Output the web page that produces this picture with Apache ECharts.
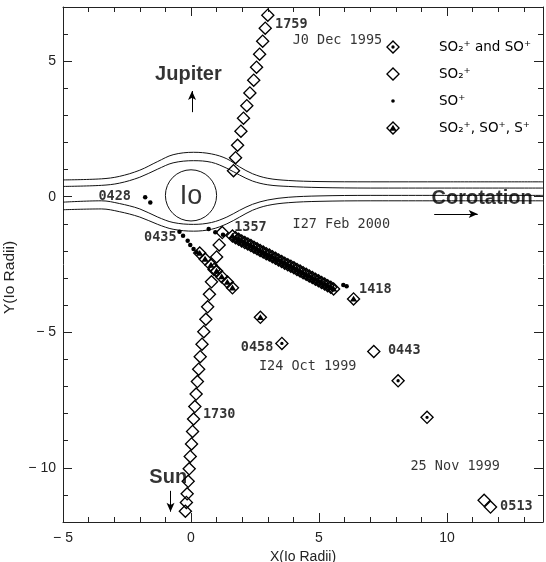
<!DOCTYPE html>
<html>
<head>
<meta charset="utf-8">
<script src="https://cdn.jsdelivr.net/npm/echarts@6/dist/echarts.min.js"></script>
<style>
html, body { margin: 0; padding: 0; background: #fff; }
#io-chart { width: 546px; height: 562px; }
</style>
</head>
<body>
<div id="io-chart"></div>
<script>
// axis ranges and tick labels
const xRange = [-5, 13.75];
const yRange = [-12, 7];
const yMajorTicks = [-10, -5, 0, 5];

// legend names
const seriesNames = ['SO₂⁺ and SO⁺', 'SO₂⁺', 'SO⁺', 'SO₂⁺, SO⁺, S⁺'];

// SO2+ and SO+ (diamond with dot)
const so2AndSo = [[3.55, -5.41], [8.09, -6.79], [9.22, -8.14]];

// SO2+ only (open diamond): J0 Dec 1995 pass and I25
const so2Only = [
  [3.00, 6.70], [2.90, 6.22], [2.80, 5.74], [2.68, 5.26], [2.56, 4.78], [2.45, 4.30],
  [2.30, 3.83], [2.18, 3.36], [2.05, 2.90], [1.95, 2.42], [1.82, 1.90], [1.74, 1.44], [1.66, 0.96],
  [1.22, -1.32], [1.10, -1.78], [1.00, -2.22], [0.90, -2.68], [0.80, -3.14], [0.72, -3.60],
  [0.65, -4.06], [0.58, -4.52], [0.50, -4.98], [0.43, -5.44], [0.36, -5.90], [0.30, -6.36],
  [0.25, -6.82], [0.20, -7.28], [0.15, -7.74], [0.10, -8.20], [0.06, -8.66], [0.02, -9.12],
  [-0.03, -9.58], [-0.07, -10.04], [-0.11, -10.50], [-0.15, -10.96], [-0.18, -11.28], [-0.22, -11.60],
  [7.14, -5.71], [11.45, -11.20], [11.70, -11.45]
];

// SO+ only (dot)
const soOnly = [
  [-1.79, -0.02], [-1.59, -0.21],
  [-0.45, -1.29], [-0.31, -1.44], [-0.13, -1.62], [-0.03, -1.78], [0.10, -1.93], [0.22, -2.05],
  [0.69, -1.19], [0.95, -1.31], [1.25, -1.40],
  [5.95, -3.26], [6.08, -3.30]
];

// SO2+, SO+ and S+ (diamond with triangle): I27 Feb 2000, I24 Oct 1999
const so2SoS = [
  [1.62, -1.45], [1.74, -1.51], [1.86, -1.57], [1.98, -1.63], [2.10, -1.69], [2.22, -1.74],
  [2.34, -1.80], [2.46, -1.86], [2.58, -1.92], [2.70, -1.98], [2.82, -2.04], [2.94, -2.10],
  [3.06, -2.15], [3.18, -2.21], [3.30, -2.27], [3.42, -2.33], [3.54, -2.39], [3.66, -2.45],
  [3.78, -2.51], [3.90, -2.56], [4.02, -2.62], [4.14, -2.68], [4.26, -2.74], [4.38, -2.80],
  [4.50, -2.86], [4.62, -2.92], [4.74, -2.98], [4.86, -3.04], [4.98, -3.10], [5.10, -3.16],
  [5.22, -3.22], [5.34, -3.28], [5.46, -3.34], [5.57, -3.40],
  [6.35, -3.77],
  [0.34, -2.08], [0.55, -2.30], [0.78, -2.52], [1.00, -2.74], [1.20, -2.95], [1.42, -3.15], [1.62, -3.36],
  [2.71, -4.45]
];

// corotation flow lines around Io
const flowUpperOuter = [[-5, 0.62], [-3.5, 0.66], [-2.8, 0.75], [-2, 0.98], [-1.3, 1.3], [-0.7, 1.55], [0.1, 1.64],
  [0.8, 1.58], [1.4, 1.4], [1.9, 1.1], [2.4, 0.85], [3, 0.68], [3.8, 0.6], [5, 0.56], [7, 0.55], [10, 0.55], [13.75, 0.55]];
const flowUpperInner = [[-5, 0.38], [-3.5, 0.42], [-2.8, 0.5], [-2, 0.72], [-1.3, 1.02], [-0.7, 1.25], [0.1, 1.33],
  [0.8, 1.27], [1.4, 1.05], [1.9, 0.8], [2.4, 0.58], [3, 0.44], [3.8, 0.38], [5, 0.34], [7, 0.32], [13.75, 0.32]];
const flowLowerInner = [[-5, -0.2], [-3.5, -0.15], [-2.8, -0.25], [-2, -0.45], [-1.3, -0.75], [-0.7, -0.95], [0.1, -1.02],
  [0.8, -0.95], [1.4, -0.75], [1.9, -0.5], [2.4, -0.28], [3, -0.12], [3.8, -0.02], [5, 0.03], [7, 0.05], [13.75, 0.05]];
const flowLowerOuter = [[-5, -0.48], [-3.5, -0.45], [-2.8, -0.55], [-2, -0.75], [-1.3, -1.02], [-0.7, -1.2], [0.1, -1.27],
  [0.8, -1.2], [1.4, -1.0], [1.9, -0.75], [2.4, -0.5], [3, -0.32], [3.8, -0.22], [5, -0.17], [7, -0.15], [13.75, -0.15]];

// Io itself
const ioCentre = [0, 0.05];
const ioRadius = 1;

// text notes [x, y, text]
const timeNotes = [[3.92, 6.34, '1759'], [-2.98, 0.01, '0428'], [-1.2, -1.51, '0435'], [2.32, -1.13, '1357'],
  [7.2, -3.41, '1418'], [2.58, -5.58, '0458'], [8.33, -5.68, '0443'], [1.1, -8.02, '1730'], [12.71, -11.41, '0513']];
const dateNotes = [[5.72, 5.75, 'J0 Dec 1995'], [5.87, -1.04, 'I27 Feb 2000'], [4.56, -6.25, 'I24 Oct 1999'],
  [10.32, -9.94, '25 Nov 1999']];
const bigNotes = [[-0.1, 4.52, 'Jupiter'], [-0.89, -10.35, 'Sun'], [11.37, -0.06, 'Corotation']];
const ioNote = [[0, 0.02, 'Io']];
// arrows [x1, y1, x2, y2]
const arrows = [[0.04, 3.12, 0.04, 3.9], [-0.8, -10.85, -0.8, -11.62], [9.5, -0.64, 11.2, -0.64]];

const ring = 'M0,-10L10,0L0,10L-10,0Z M0,-7.3L-7.3,0L0,7.3L7.3,0Z';
const symbols = [
  'path://' + ring + ' M-2.4,0A2.4,2.4 0 1,0 2.4,0A2.4,2.4 0 1,0 -2.4,0Z',
  'path://' + ring,
  'circle',
  'path://' + ring + ' M0,-4.6L5.2,3.8L-5.2,3.8Z'
];
const symbolSizes = [14, 14, 4.5, 14];
// small dot for the legend, padded with empty corner points so it keeps its size
const dotIcon = 'path://M-10,-10Z M10,10Z M-2.6,0A2.6,2.6 0 1,0 2.6,0A2.6,2.6 0 1,0 -2.6,0Z';

const chartDom = document.getElementById('io-chart');
const myChart = echarts.init(chartDom);

const axisCol = '#222';
const labelFont = { color: '#222', fontFamily: 'Liberation Sans', fontSize: 14 };
const minus = v => String(v).replace('-', '\u2212 ');

function xAxisDef(pos, major) {
  return {
    type: 'value', position: pos, min: xRange[0], max: xRange[1], interval: major ? 5 : 1,
    axisLine: { show: major, onZero: false, lineStyle: { color: axisCol, width: 1 } },
    axisTick: { show: true, inside: true, length: major ? 9 : 5, lineStyle: { color: axisCol } },
    axisLabel: major && pos === 'bottom'
      ? Object.assign({ show: true, margin: 9, showMaxLabel: false, formatter: minus }, labelFont) : { show: false },
    splitLine: { show: false },
    name: major && pos === 'bottom' ? 'X(Io Radii)' : '',
    nameLocation: 'middle', nameGap: 25, nameTextStyle: labelFont
  };
}
function yAxisDef(pos, major) {
  const ax = {
    type: 'value', position: pos, min: yRange[0], max: yRange[1],
    axisLine: { show: major, onZero: false, lineStyle: { color: axisCol, width: 1 } },
    axisTick: { show: true, inside: true, length: major ? 9 : 5, lineStyle: { color: axisCol } },
    axisLabel: { show: false },
    splitLine: { show: false },
    name: major && pos === 'left' ? 'Y(Io Radii)' : '',
    nameLocation: 'middle', nameGap: 40,
    nameTextStyle: Object.assign({}, labelFont, { fontSize: 15.5, padding: [0, 0, 0, -26] })
  };
  if (major) {
    ax.axisTick.customValues = yMajorTicks;
    if (pos === 'left') ax.axisLabel = Object.assign({ show: true, margin: 7, customValues: yMajorTicks, formatter: minus }, labelFont);
  } else {
    ax.interval = 1;
  }
  return ax;
}

function flowSeries(data) {
  return {
    type: 'line', data: data, smooth: 0.35, symbol: 'none', silent: true,
    lineStyle: { color: '#111', width: 1 }, z: 1
  };
}
function noteSeries(data, font) {
  return {
    type: 'scatter', silent: true, symbolSize: 0, z: 5,
    data: data.map(d => ({ value: [d[0], d[1]], name: d[2] })),
    label: Object.assign({
      show: true, position: [0, 0], align: 'center', verticalAlign: 'middle',
      formatter: p => p.name, color: '#000', textBorderWidth: 0
    }, font)
  };
}

const dataSeries = [so2AndSo, so2Only, soOnly, so2SoS].map((d, i) => ({
  name: seriesNames[i], type: 'scatter', data: d, symbol: symbols[i], symbolSize: symbolSizes[i],
  itemStyle: { color: '#000', opacity: 1 }, z: 3
}));

const notes = noteSeries(timeNotes, { fontFamily: 'DejaVu Sans Mono', fontWeight: 'bold', fontSize: 13.5 });
notes.markLine = {
  silent: true, symbol: ['none', 'arrow'], symbolSize: [6, 9], label: { show: false },
  lineStyle: { color: '#000', width: 1, type: 'solid' },
  data: arrows.map(a => [{ coord: [a[0], a[1]] }, { coord: [a[2], a[3]] }])
};

const option = {
  animation: false,
  backgroundColor: '#fff',
  grid: { left: 63, right: 3, top: 7, bottom: 40, containLabel: false, outerBoundsMode: 'none' },
  legend: {
    orient: 'vertical', left: 386, top: 40, padding: 0, itemWidth: 14, itemHeight: 14, itemGap: 13,
    selectedMode: false,
    data: seriesNames.map((n, i) => ({ name: n, icon: i === 2 ? dotIcon : symbols[i] })),
    textStyle: { color: '#000', fontFamily: 'DejaVu Sans', fontSize: 13.5, padding: [0, 0, 0, 34] }
  },
  xAxis: [xAxisDef('bottom', true), xAxisDef('bottom', false), xAxisDef('top', true), xAxisDef('top', false)],
  yAxis: [yAxisDef('left', true), yAxisDef('left', false), yAxisDef('right', true), yAxisDef('right', false)],
  series: [
    flowSeries(flowUpperOuter), flowSeries(flowUpperInner), flowSeries(flowLowerInner), flowSeries(flowLowerOuter),
    {
      type: 'custom', silent: true, data: [ioCentre], z: 2,
      renderItem: function (params, api) {
        const c = api.coord([api.value(0), api.value(1)]);
        const r = api.size([ioRadius, ioRadius])[0];
        return { type: 'circle', shape: { cx: c[0], cy: c[1], r: r }, style: { fill: 'none', stroke: '#111', lineWidth: 1 } };
      }
    },
    ...dataSeries,
    notes,
    noteSeries(dateNotes, { fontFamily: 'DejaVu Sans Mono', fontSize: 13.5 }),
    noteSeries(bigNotes, { fontFamily: 'Liberation Sans', fontWeight: 'bold', fontSize: 20 }),
    noteSeries(ioNote, { fontFamily: 'Liberation Sans', fontSize: 27 })
  ]
};

option && myChart.setOption(option);
window.addEventListener('resize', function () {
  myChart.resize();
});
</script>
</body>
</html>
